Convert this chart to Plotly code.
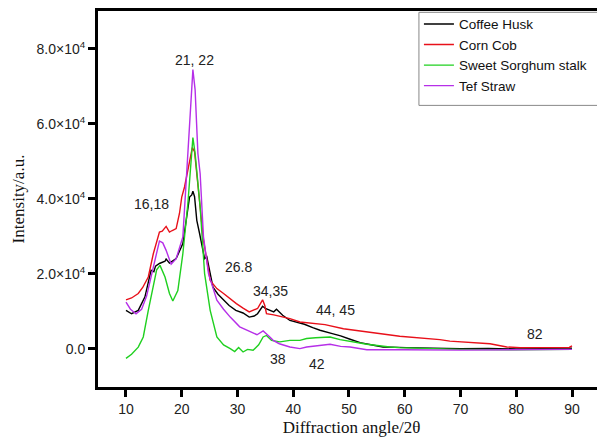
import plotly.graph_objects as go

# ---------------- data ----------------
coffee_x = [10, 11, 12.2, 13.4, 14.5, 15, 15.3, 16, 17, 17.2, 17.8, 19, 20.2, 20.8, 21.4, 21.8, 22, 22.3, 22.7,
            23.2, 24.1, 24.5, 25.6, 26.5, 27.5, 28.5, 29.7, 31, 32.1, 33, 33.6, 34.5, 35, 35.7, 36.5, 37, 38.1,
            39.4, 41.2, 42, 43.5, 44.8, 47, 48.5, 50.2, 52, 54.4, 56.1, 60.3, 65, 70, 75, 80, 85, 90]
coffee_y = [10200, 9300, 10200, 13800, 20900, 20500, 22000, 22700, 23300, 23900, 22800, 24000, 28000, 34200,
            40400, 41000, 42000, 40500, 34200, 30700, 24000, 24500, 16400, 14500, 12900, 11500, 10200, 9500,
            8400, 8700, 9300, 11300, 10700, 10200, 9800, 10500, 8900, 7500, 6700, 6500, 5600, 4900, 4000,
            3400, 2500, 1600, 900, 430, 270, 100, 0, 50, -100, 0, 100]

corn_x = [10, 11, 12.2, 13, 14, 14.9, 16, 16.5, 17.2, 17.8, 18.3, 19, 19.6, 20, 20.5, 21.2, 21.9, 22.3, 22.7,
          23.3, 23.9, 25.1, 26.3, 27.5, 28.7, 29.8, 31, 32.1, 33.6, 34.2, 34.5, 34.9, 35.2, 36.5, 37.5, 39.4,
          41.2, 45.7, 49, 53.2, 59.1, 66.3, 68.1, 75.3, 78.3, 80.7, 84.3, 87, 89.5, 90]
corn_y = [13000, 13500, 14700, 16300, 19100, 25300, 31100, 31300, 32600, 31100, 31500, 32000, 36100, 40400,
          43100, 48500, 53600, 52500, 46700, 38000, 28900, 18200, 16000, 14700, 13200, 12000, 10800, 9800,
          10700, 12000, 13000, 11500, 9300, 9000, 8700, 8000, 7100, 6400, 5300, 4400, 3300, 2400, 2000,
          1300, 430, 270, 270, 200, 300, 700]

sorghum_x = [10, 11, 12.2, 13.1, 14, 14.9, 15.5, 16.1, 17, 17.8, 18.4, 19.3, 20.2, 21.1, 21.6, 22, 22.4, 22.8,
             23.3, 24.1, 25.1, 26.3, 27.5, 28.7, 29.5, 30.2, 31, 31.8, 32.8, 33.8, 34.6, 35.2, 36.1, 37.6,
             39.4, 41.2, 42.4, 44, 45.4, 46.6, 48.4, 50, 53.2, 57.3, 59.1, 65, 70, 80, 90]
sorghum_y = [-2600, -1500, 400, 3100, 10200, 17300, 21000, 22200, 19100, 14700, 12700, 15500, 25300, 38700,
             50000, 56300, 52000, 44900, 37800, 20000, 10200, 3100, 1000, 0, -800, 300, -900, -200, -450,
             1000, 3100, 3500, 2200, 1800, 2200, 2200, 2700, 2900, 2900, 3100, 2400, 2000, 1150, 430, 270,
             0, -200, -300, -200]

tef_x = [10, 10.8, 11.8, 12.8, 13.7, 14.5, 15.3, 16, 16.6, 17.2, 18.1, 19, 20.2, 20.9, 21.6, 22, 22.4, 22.9,
         23.3, 23.9, 24.8, 26.3, 27.5, 28.7, 30.4, 31.7, 32.8, 33.5, 34.6, 35.2, 35.8, 36.4, 37.5, 39.4,
         41.2, 42.4, 44.5, 46.6, 48.5, 50.2, 53.2, 54.4, 60, 70, 80, 90]
tef_y = [12400, 10500, 9300, 10500, 14000, 19100, 25000, 28700, 28200, 26200, 22500, 24000, 29800, 47000,
         64000, 74400, 69000, 52000, 46700, 29800, 20000, 12900, 10500, 8400, 5800, 4900, 4000, 3700, 4700,
         4000, 3100, 2200, 1300, 430, 0, 430, 700, 1150, 600, 430, -300, -270, -300, -400, -300, -200]

series_names = ["Coffee Husk", "Corn Cob", "Sweet Sorghum stalk", "Tef Straw"]
series_colors = ["#000000", "#e8101a", "#1fd01f", "#b62fe8"]

peak_labels = ["21, 22", "16,18", "26.8", "34,35", "38", "42", "44, 45", "82"]
peak_label_x = [22.2, 14.6, 30.1, 36.0, 37.3, 44.2, 47.6, 83.3]
peak_label_y = [76900, 38700, 21800, 15300, -2700, -4200, 10200, 3800]

x_ticks = [10, 20, 30, 40, 50, 60, 70, 80, 90]
y_ticks = [0, 20000, 40000, 60000, 80000]
y_tick_text = ["0.0", "2.0×10<sup>4</sup>", "4.0×10<sup>4</sup>", "6.0×10<sup>4</sup>", "8.0×10<sup>4</sup>"]

# ---------------- figure ----------------
fig = go.Figure()
all_x = [coffee_x, corn_x, sorghum_x, tef_x]
all_y = [coffee_y, corn_y, sorghum_y, tef_y]
for xs, ys, nm, col in zip(all_x, all_y, series_names, series_colors):
    fig.add_trace(go.Scatter(x=xs, y=ys, mode="lines", name=nm,
                             line=dict(color=col, width=1.4)))

for t, xv, yv in zip(peak_labels, peak_label_x, peak_label_y):
    fig.add_annotation(x=xv, y=yv, text=t, showarrow=False, xref="x", yref="y",
                       font=dict(family="Liberation Sans, Arial", size=14, color="#222"))

# legend frame (taller than the entries, open to the right edge)
fig.add_shape(type="rect", xref="paper", yref="paper", x0=0.633, x1=1.05, y0=0.749, y1=0.9965,
              line=dict(color="#888", width=1), fillcolor="white", layer="below")

# the page body adds an 8px offset, so the figure is 8px smaller and margins are reduced by 8px
fig.update_layout(
    width=597, height=429,
    margin=dict(l=90, r=0, t=3, b=50),
    paper_bgcolor="white", plot_bgcolor="white",
    font=dict(family="Liberation Sans, Arial", size=14, color="#222"),
    legend=dict(x=0.633, y=1.006, xanchor="left", yanchor="top",
                bgcolor="rgba(0,0,0,0)", borderwidth=0,
                font=dict(family="Liberation Sans, Arial", size=13.5, color="#111"),
                tracegroupgap=0),
    showlegend=True,
)
fig.update_xaxes(range=[4.98, 95.92], tickvals=x_ticks, ticks="outside", ticklen=7, tickwidth=2.5,
                 tickcolor="black", showline=True, linewidth=3, linecolor="black", mirror=True,
                 showgrid=False, zeroline=False,
                 title=dict(text="Diffraction angle/2θ", standoff=7,
                            font=dict(family="Liberation Serif, Times New Roman", size=17, color="#111")))
fig.update_yaxes(range=[-10240, 90040], tickvals=y_ticks, ticktext=y_tick_text, ticks="outside",
                 ticklen=7, tickwidth=2.5, tickcolor="black", showline=True, linewidth=3,
                 linecolor="black", mirror=False, showgrid=False, zeroline=False,
                 title=dict(text="Intensity/a.u.", standoff=8,
                            font=dict(family="Liberation Serif, Times New Roman", size=17, color="#111")))

fig.write_html("out.html")
